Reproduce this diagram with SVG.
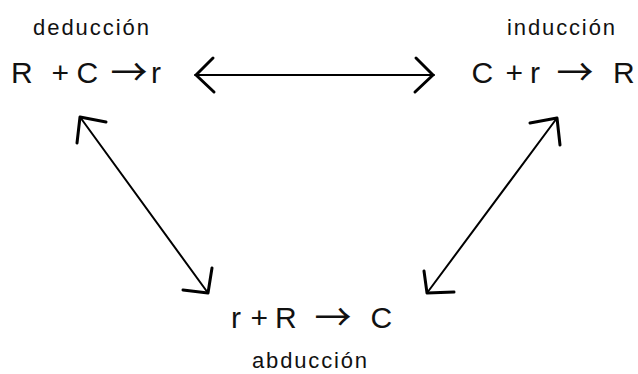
<svg xmlns="http://www.w3.org/2000/svg" width="638" height="374" viewBox="0 0 638 374">
<style>
.lbl{font-family:"Liberation Sans",Arial,sans-serif;font-size:22px;fill:#111}
.f{font-family:"Liberation Sans",Arial,sans-serif;font-size:30px;fill:#111}
.ar{font-family:"Noto Sans CJK SC","DejaVu Sans",sans-serif;font-size:37px;fill:#111;text-anchor:middle}
.ln{stroke:#000;stroke-width:2;fill:none;stroke-linecap:round}
.hd{stroke:#000;stroke-width:3;fill:none;stroke-linecap:round;stroke-linejoin:round}
</style>
<rect width="638" height="374" fill="#fff"/>
<g id="deduccion">
<text class="lbl" x="33" y="35" textLength="116" lengthAdjust="spacing">deducción</text>
<text class="f" y="83"><tspan x="11">R</tspan><tspan x="51.5">+</tspan><tspan x="76.5">C</tspan><tspan x="151">r</tspan></text>
<text class="ar" x="129" y="86">→</text>
</g>
<g id="induccion">
<text class="lbl" x="507" y="35" textLength="108" lengthAdjust="spacing">inducción</text>
<text class="f" y="83"><tspan x="471.5">C</tspan><tspan x="505.5">+</tspan><tspan x="530">r</tspan><tspan x="613">R</tspan></text>
<text class="ar" x="575" y="86">→</text>
</g>
<g id="abduccion">
<text class="lbl" x="252" y="368" textLength="115" lengthAdjust="spacing">abducción</text>
<text class="f" y="328"><tspan x="231">r</tspan><tspan x="250.5">+</tspan><tspan x="275">R</tspan><tspan x="370.5">C</tspan></text>
<text class="ar" x="333" y="331">→</text>
</g>
<g id="connectors">
<line class="ln" x1="195" y1="75" x2="434" y2="75"/>
<path class="hd" d="M213,58 L196,75 L214,92"/>
<path class="hd" d="M416,58 L433,75 L415,92"/>
<line class="ln" x1="80" y1="117" x2="208" y2="293"/>
<path class="hd" d="M106,122 L80,117 L77,143"/>
<path class="hd" d="M183,290 L208,293 L212,268"/>
<line class="ln" x1="557" y1="118" x2="427" y2="293"/>
<path class="hd" d="M530,123 L557,118 L560,145"/>
<path class="hd" d="M424,271 L427,293 L454,292"/>
</g>
</svg>
